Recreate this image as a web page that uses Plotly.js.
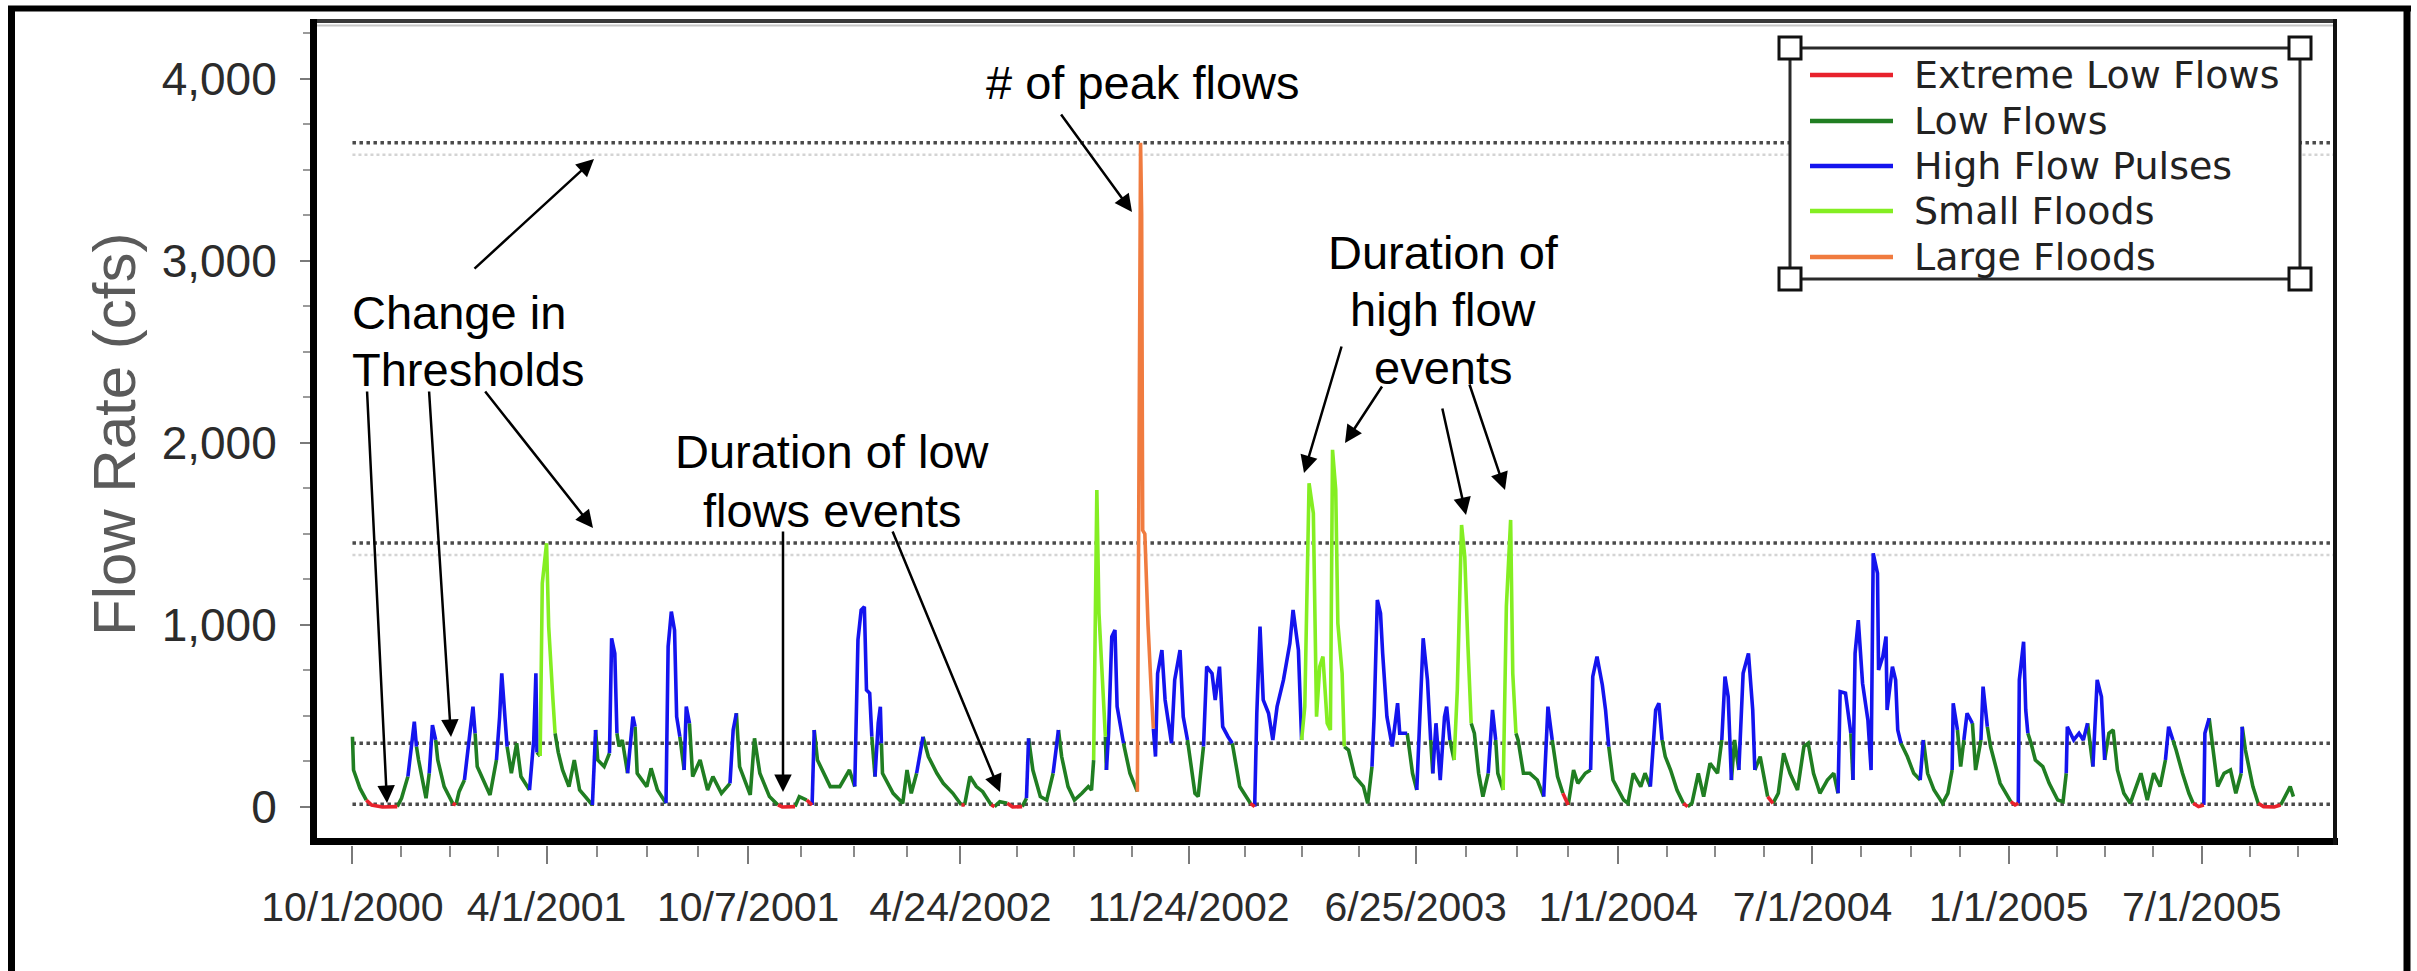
<!DOCTYPE html>
<html>
<head>
<meta charset="utf-8">
<script src="https://cdn.plot.ly/plotly-3.0.1.min.js"></script>
<style>
html,body{margin:0;padding:0;background:#fff;}
#chart{width:2417px;height:971px;}
</style>
</head>
<body>
<div id="chart"></div>
<script>
// ---------------- DATA ----------------
const flowDate = [
 '2000-10-01','2000-10-02','2000-10-08','2000-10-14','2000-10-19','2000-10-29','2000-11-12','2000-11-16','2000-11-22','2000-11-26',
 '2000-11-28','2000-11-30','2000-12-02','2000-12-09','2000-12-12','2000-12-15','2000-12-18','2000-12-20','2000-12-26','2001-01-03',
 '2001-01-06','2001-01-09','2001-01-14','2001-01-22','2001-01-24','2001-01-26','2001-02-07','2001-02-13','2001-02-16','2001-02-18',
 '2001-02-21','2001-02-23','2001-02-27','2001-03-04','2001-03-08','2001-03-16','2001-03-20','2001-03-22','2001-03-23','2001-03-26',
 '2001-03-28','2001-04-01','2001-04-03','2001-04-07','2001-04-09','2001-04-12','2001-04-16','2001-04-22','2001-04-27','2001-05-02',
 '2001-05-14','2001-05-17','2001-05-19','2001-05-25','2001-05-30','2001-06-01','2001-06-04','2001-06-06','2001-06-08','2001-06-11',
 '2001-06-16','2001-06-21','2001-06-23','2001-06-25','2001-07-04','2001-07-08','2001-07-14','2001-07-22','2001-07-24','2001-07-27',
 '2001-07-30','2001-08-01','2001-08-04','2001-08-06','2001-08-08','2001-08-10','2001-08-13','2001-08-16','2001-08-23','2001-08-30',
 '2001-09-04','2001-09-12','2001-09-20','2001-09-23','2001-09-26','2001-09-29','2001-10-09','2001-10-13','2001-10-18','2001-10-27',
 '2001-11-04','2001-11-08','2001-11-20','2001-11-24','2001-12-01','2001-12-06','2001-12-08','2001-12-11','2001-12-23',
 '2002-01-01','2002-01-10','2002-01-15','2002-01-18','2002-01-21','2002-01-24','2002-01-26','2002-01-29','2002-01-31','2002-02-03',
 '2002-02-06','2002-02-08','2002-02-09','2002-02-10','2002-02-20','2002-03-01','2002-03-05','2002-03-09','2002-03-14','2002-03-20',
 '2002-03-25','2002-04-02','2002-04-08','2002-04-17','2002-04-25','2002-04-28','2002-05-03','2002-05-09','2002-05-15','2002-05-23',
 '2002-05-26','2002-05-31','2002-06-07','2002-06-12','2002-06-21','2002-06-25','2002-06-27','2002-07-01','2002-07-08','2002-07-14',
 '2002-07-20','2002-07-25','2002-07-28','2002-08-03','2002-08-09','2002-08-16','2002-08-22','2002-08-25','2002-08-27','2002-08-30',
 '2002-09-01','2002-09-05','2002-09-07','2002-09-08','2002-09-10','2002-09-13','2002-09-16','2002-09-18','2002-09-23','2002-09-24',
 '2002-09-30','2002-10-07','2002-10-09','2002-10-10','2002-10-11','2002-10-12','2002-10-14','2002-10-17','2002-10-20','2002-10-22',
 '2002-10-24','2002-10-26','2002-10-30','2002-11-02','2002-11-05','2002-11-08','2002-11-11','2002-11-16','2002-11-19','2002-11-23',
 '2002-11-25','2002-11-30','2002-12-03','2002-12-08','2002-12-11','2002-12-16','2002-12-19','2002-12-23','2002-12-26','2002-12-31',
 '2003-01-04','2003-01-11','2003-01-21','2003-01-25','2003-01-27','2003-01-30','2003-02-02','2003-02-07','2003-02-11','2003-02-15',
 '2003-02-21','2003-02-27','2003-03-02','2003-03-07','2003-03-10','2003-03-13','2003-03-17','2003-03-21','2003-03-24','2003-03-27',
 '2003-03-30','2003-04-03','2003-04-06','2003-04-08','2003-04-11','2003-04-13','2003-04-17','2003-04-19','2003-04-23','2003-04-29',
 '2003-05-07','2003-05-11','2003-05-15','2003-05-17','2003-05-20','2003-05-23','2003-05-25','2003-05-29','2003-06-03','2003-06-08',
 '2003-06-10','2003-06-17','2003-06-22','2003-06-26','2003-06-29','2003-07-02','2003-07-06','2003-07-09','2003-07-11','2003-07-14',
 '2003-07-18','2003-07-22','2003-07-24','2003-07-27','2003-07-31','2003-08-03','2003-08-07','2003-08-10','2003-08-13','2003-08-16',
 '2003-08-19','2003-08-23','2003-08-27','2003-09-01','2003-09-05','2003-09-08','2003-09-10','2003-09-15','2003-09-18','2003-09-22',
 '2003-09-24','2003-09-27','2003-09-29','2003-10-04','2003-10-10','2003-10-17','2003-10-23','2003-10-27','2003-10-31','2003-11-05',
 '2003-11-10','2003-11-15','2003-11-20','2003-11-24','2003-12-01','2003-12-06','2003-12-08','2003-12-12','2003-12-17','2003-12-20',
 '2003-12-23','2003-12-27','2004-01-06','2004-01-10','2004-01-15','2004-01-22','2004-01-26','2004-01-31','2004-02-05','2004-02-08',
 '2004-02-11','2004-02-14','2004-02-19','2004-02-25','2004-03-02','2004-03-06','2004-03-10','2004-03-16','2004-03-21','2004-03-27',
 '2004-04-03','2004-04-07','2004-04-10','2004-04-13','2004-04-16','2004-04-19','2004-04-23','2004-04-27','2004-05-02','2004-05-06',
 '2004-05-08','2004-05-13','2004-05-20','2004-05-25','2004-05-30','2004-06-04','2004-06-10','2004-06-17','2004-06-23','2004-06-27',
 '2004-07-02','2004-07-08','2004-07-15','2004-07-21','2004-07-25','2004-07-27','2004-08-01','2004-08-06','2004-08-08','2004-08-10',
 '2004-08-13','2004-08-17',
 '2004-08-22','2004-08-25','2004-08-27','2004-08-31','2004-09-01','2004-09-05','2004-09-08','2004-09-09','2004-09-14','2004-09-17',
 '2004-09-19','2004-09-22','2004-09-28','2004-10-04','2004-10-10','2004-10-13','2004-10-17','2004-10-23','2004-10-31','2004-11-05',
 '2004-11-09','2004-11-10','2004-11-14','2004-11-17','2004-11-20','2004-11-23','2004-11-28','2004-12-01','2004-12-06','2004-12-08',
 '2004-12-12','2004-12-15','2004-12-24','2005-01-03','2005-01-07','2005-01-10','2005-01-11','2005-01-15','2005-01-17','2005-01-19',
 '2005-01-22','2005-01-26','2005-02-02','2005-02-08','2005-02-16','2005-02-21','2005-02-24','2005-02-25','2005-03-03','2005-03-08',
 '2005-03-12','2005-03-16','2005-03-21','2005-03-25','2005-03-29','2005-04-01','2005-04-05','2005-04-09','2005-04-13','2005-04-19',
 '2005-04-25','2005-05-05','2005-05-11','2005-05-17','2005-05-23','2005-05-28','2005-05-31','2005-06-04','2005-06-07','2005-06-13',
 '2005-06-19','2005-06-23','2005-06-28','2005-07-03','2005-07-04','2005-07-08','2005-07-11','2005-07-16','2005-07-22','2005-07-28',
 '2005-08-02','2005-08-07','2005-08-08','2005-08-11','2005-08-18','2005-08-23','2005-08-28','2005-09-07','2005-09-13','2005-09-20',
 '2005-09-22','2005-09-25'
];
const flowCfs = [
 386,203,103,38,11,0,2,48,167,368,
 469,332,258,48,185,450,368,258,112,20,
 11,84,148,551,405,222,66,258,496,734,
 460,332,185,350,167,93,368,734,300,280,
 1229,1449,991,588,405,300,203,112,258,93,
 11,423,258,222,295,927,844,405,332,368,
 185,496,441,185,112,212,93,20,881,1073,
 972,496,386,300,203,551,460,167,258,93,
 167,75,130,423,515,222,66,377,185,57,
 11,0,2,57,38,11,423,258,112,
 112,203,112,918,1082,1100,643,625,386,167,
 460,551,350,185,75,20,203,75,185,386,
 277,185,130,75,11,11,167,112,84,11,
 2,29,20,0,2,48,377,203,57,38,
 185,423,277,112,38,75,112,93,258,1742,
 1064,661,386,203,405,936,972,551,386,350,
 185,84,3240,3650,3260,1520,1500,1000,640,430,
 277,734,862,588,478,350,698,862,496,368,
 277,75,57,332,771,734,588,771,441,386,
 350,112,20,2,515,991,588,515,368,551,
 698,899,1082,862,368,551,1778,1614,496,771,
 826,460,423,1962,1742,1009,734,332,313,167,
 112,20,222,496,1137,1064,844,496,332,570,
 405,405,185,93,496,927,698,368,185,460,
 148,496,551,368,258,643,1549,1375,881,460,
 405,185,57,185,533,368,185,93,1101,1577,
 734,405,368,185,185,148,57,551,368,167,
 75,11,203,130,185,203,716,826,670,533,
 332,148,38,20,185,112,185,112,533,570,
 368,277,203,93,20,2,20,185,57,240,
 185,368,716,606,148,368,203,734,844,533,
 203,277,57,20,75,295,185,93,332,350,
 185,75,148,185,75,634,625,405,148,844,
 1027,680,
 478,203,1394,1284,753,826,936,533,771,698,
 423,350,277,185,148,368,185,93,20,75,
 203,570,423,222,368,515,460,203,368,661,
 441,332,130,29,11,20,698,908,533,405,
 350,258,222,130,38,29,185,441,368,405,
 368,460,222,698,606,258,405,423,203,75,
 20,185,38,185,112,258,441,368,313,185,
 75,20,2,11,405,487,332,112,185,203,
 75,185,441,313,112,20,2,0,11,93,
 112,57
];
// flow class of the segment that ends at each point
// E = Extreme Low Flows, L = Low Flows, H = High Flow Pulses, S = Small Floods, F = Large Floods
const flowClass = [
 'L','L','L','L','E','E','E','L','L','H',
 'H','H','L','L','L','H','H','L','L','L',
 'E','L','L','H','H','L','L','L','H','H',
 'H','H','L','L','L','L','H','H','H','L',
 'S','S','S','S','S','L','L','L','L','L',
 'L','H','L','L','L','H','H','H','L','L',
 'L','H','H','L','L','L','L','L','H','H',
 'H','H','H','L','L','H','H','L','L','L',
 'L','L','L','H','H','L','L','L','L','L',
 'L','E','E','L','L','E','H','L','L',
 'L','L','L','H','H','H','H','H','H','L',
 'H','H','H','L','L','L','L','L','L','H',
 'L','L','L','L','L','E','L','L','L','L',
 'E','L','L','E','E','L','H','L','L','L',
 'L','H','L','L','L','L','L','L','L','S',
 'S','S','S','L','H','H','H','H','H','H',
 'L','L','F','F','F','F','F','F','F','F',
 'H','H','H','H','H','H','H','H','H','H',
 'L','L','L','L','H','H','H','H','H','H',
 'H','L','L','E','H','H','H','H','H','H',
 'H','H','H','H','H','S','S','S','S','S',
 'S','S','S','S','S','S','S','S','L','L',
 'L','L','L','H','H','H','H','H','H','H',
 'H','H','L','L','H','H','H','H','L','H',
 'H','H','H','H','L','S','S','S','S','S',
 'L','L','L','L','H','H','L','L','S','S',
 'S','S','L','L','L','L','L','H','H','L',
 'L','E','L','L','L','L','H','H','H','H',
 'H','L','L','L','L','L','L','L','H','H',
 'H','L','L','L','L','E','L','L','L','L',
 'L','L','H','H','H','L','L','H','H','H',
 'H','L','L','E','L','L','L','L','L','L',
 'L','L','L','L','L','H','H','H','L','H',
 'H','H',
 'H','H','H','H','H','H','H','H','H','H',
 'H','H','L','L','L','H','L','L','L','L',
 'L','H','H','L','L','H','H','L','L','H',
 'H','L','L','L','E','E','H','H','H','H',
 'L','L','L','L','L','L','L','H','H','H',
 'H','H','L','H','H','H','L','L','L','L',
 'L','L','L','L','L','L','H','H','L','L',
 'L','L','E','E','H','H','L','L','L','L',
 'L','L','H','L','L','L','E','E','E','L',
 'L','L'
];
const classOrder  = ['L','H','S','F','E'];
const legendOrder = ['E','L','H','S','F'];
const classNames  = {E:'Extreme Low Flows', L:'Low Flows', H:'High Flow Pulses', S:'Small Floods', F:'Large Floods'};
const classColors = {E:'#e8222c', L:'#207e22', H:'#1414ee', S:'#84ee22', F:'#f07b3f'};
const thresholdValues = [15, 350, 1450, 3650];
const ghostThresholds = [1384, 3584];
const xTickDates  = ['2000-10-01','2001-04-01','2001-10-07','2002-04-24','2002-11-24','2003-06-25','2004-01-01','2004-07-01','2005-01-01','2005-07-01'];
const xTickLabels = ['10/1/2000','4/1/2001','10/7/2001','4/24/2002','11/24/2002','6/25/2003','1/1/2004','7/1/2004','1/1/2005','7/1/2005'];
const yTickValues = [0, 1000, 2000, 3000, 4000];
const xRange = ['2000-08-25', '2005-11-03'];
const yRange = [-209, 4313];

if (flowDate.length !== flowCfs.length || flowDate.length !== flowClass.length) {
  throw new Error('length mismatch ' + flowDate.length + ' ' + flowCfs.length + ' ' + flowClass.length);
}

// ---------------- traces: one per flow class, segments split by class ----------------
function buildTrace(code) {
  const xs = [], ys = [];
  let last = -2;
  for (let i = 1; i < flowDate.length; i++) {
    if (flowClass[i] !== code) continue;
    if (last !== i - 1) {
      if (xs.length) { xs.push(null); ys.push(null); }
      xs.push(flowDate[i - 1]); ys.push(flowCfs[i - 1]);
    }
    xs.push(flowDate[i]); ys.push(flowCfs[i]);
    last = i;
  }
  return {
    type: 'scatter', mode: 'lines', x: xs, y: ys, name: classNames[code],
    line: {color: classColors[code], width: 3.6}, connectgaps: false, showlegend: false
  };
}
const traces = classOrder.map(buildTrace);

// ---------------- layout geometry (pixels of the page) ----------------
const PL = 313, PR = 2335, PT = 22, PB = 845;
const px = X => (X - PL) / (PR - PL);
const py = Y => (PB - Y) / (PB - PT);

// minor x ticks: quarters between the major ticks
const tickMs = xTickDates.map(d => Date.parse(d + 'T00:00:00Z'));
const iso = ms => new Date(ms).toISOString().replace('T', ' ').slice(0, 19);
const minorX = [];
for (let i = 0; i < tickMs.length - 1; i++) {
  for (let k = 1; k < 4; k++) minorX.push(iso(tickMs[i] + (tickMs[i + 1] - tickMs[i]) * k / 4));
}
const lastStep = (tickMs[tickMs.length - 1] - tickMs[tickMs.length - 2]) / 4;
for (let k = 1; k <= 2; k++) minorX.push(iso(tickMs[tickMs.length - 1] + lastStep * k));

const shapes = [];
// threshold lines
ghostThresholds.forEach(v => shapes.push({type:'line', xref:'x', yref:'y', x0:xTickDates[0], x1:xRange[1], y0:v, y1:v,
  line:{color:'#d4d4d4', width:2.5, dash:'dot'}, layer:'below'}));
thresholdValues.forEach(v => shapes.push({type:'line', xref:'x', yref:'y', x0:xTickDates[0], x1:xRange[1], y0:v, y1:v,
  line:{color:'#4a4a4a', width:3.5, dash:'dot'}, layer:'below'}));
function pline(x0, y0, x1, y1, color, width) {
  shapes.push({type:'line', xref:'paper', yref:'paper', x0:px(x0), y0:py(y0), x1:px(x1), y1:py(y1),
    line:{color:color, width:width}, layer:'above'});
}
function prect(x0, y0, x1, y1, color, width, fill) {
  shapes.push({type:'rect', xref:'paper', yref:'paper', x0:px(x0), y0:py(y0), x1:px(x1), y1:py(y1),
    line:{color:color, width:width}, fillcolor:fill, layer:'above'});
}
// outer border
pline(11.5, 8, 11.5, 980, '#000', 7);
pline(8, 8.5, 2411, 8.5, '#000', 6);
pline(2407, 8, 2407, 980, '#000', 7);
// plot frame
pline(313, 21, 2337, 21, '#3a3a3a', 4);
pline(316, 25.5, 2333, 25.5, '#c6c6c6', 2);
pline(313.5, 19, 313.5, 845, '#000', 7);
pline(310, 841.5, 2338, 841.5, '#000', 7);
pline(2335, 19, 2335, 845, '#111', 4);

// legend (drawn manually)
const legRowY = [75, 121, 166, 211, 257];
prect(1790, 48, 2300, 279, '#2a2a2a', 3, 'rgba(255,255,255,1)');
[[1790,48],[2300,48],[1790,279],[2300,279]].forEach(([cx, cy]) => prect(cx-11, cy-11, cx+11, cy+11, '#111', 3, '#fff'));
legendOrder.forEach((c, i) => pline(1810, legRowY[i], 1893, legRowY[i], classColors[c], 4.5));

const annotations = [];
const FONT = 'Liberation Sans, Arial, sans-serif';
function note(text, X, Y, xanchor, size, color, extra) {
  annotations.push(Object.assign({text:text, xref:'paper', yref:'paper', x:px(X), y:py(Y), xanchor:xanchor, yanchor:'middle',
    showarrow:false, font:{family:FONT, size:size, color:color}}, extra || {}));
}
function arrow(tailX, tailY, tipX, tipY) {
  annotations.push({text:'', xref:'paper', yref:'paper', x:px(tipX), y:py(tipY), axref:'pixel', ayref:'pixel',
    ax:tailX - tipX, ay:tailY - tipY, showarrow:true, arrowhead:2, arrowsize:1.4, arrowwidth:2.5, arrowcolor:'#000', standoff:0});
}
legendOrder.forEach((c, i) => note(classNames[c], 1912, legRowY[i], 'left', 38, '#222',
  {font:{family:'DejaVu Sans, Verdana, sans-serif', size:38, color:'#222'}}));

// y-axis title
note('Flow Rate (cfs)', 115, 435, 'center', 60, '#5a5a5a', {textangle:-90});

// callout texts
note('# of peak flows', 1143, 82, 'center', 47, '#000');
note('Change in', 350, 313, 'left', 47, '#000');
note('Thresholds', 350, 369, 'left', 47, '#000');
note('Duration of', 1443, 252, 'center', 47, '#000');
note('high flow', 1443, 309, 'center', 47, '#000');
note('events', 1443, 367, 'center', 47, '#000');
note('Duration of low', 832, 451, 'center', 47, '#000');
note('flows events', 832, 510, 'center', 47, '#000');

// callout arrows
arrow(1060, 113, 1132, 212);
arrow(473, 270, 594, 159);
arrow(367, 390, 387, 803);
arrow(429, 390, 451, 737);
arrow(484, 390, 593, 528);
arrow(783, 530, 783, 792);
arrow(892, 530, 1000, 792);
arrow(1342, 345, 1304, 473);
arrow(1383, 385, 1345, 443);
arrow(1442, 407, 1466, 515);
arrow(1469, 383, 1505, 490);

const layout = {
  width: 2417, height: 971,
  margin: {l: PL, r: 2417 - PR, t: PT, b: 971 - PB, pad: 0},
  paper_bgcolor: '#fff', plot_bgcolor: '#fff',
  showlegend: false,
  xaxis: {
    type: 'date', range: xRange, showgrid: false, zeroline: false, showline: false,
    tickmode: 'array', tickvals: xTickDates, ticktext: xTickLabels,
    ticks: 'outside', ticklen: 18, tickwidth: 2, tickcolor: '#7a7a7a', ticklabelstandoff: 8,
    tickfont: {family: FONT, size: 41, color: '#2b2b2b'},
    minor: {tickvals: minorX, ticks: 'outside', ticklen: 11, tickwidth: 2, tickcolor: '#8a8a8a', showgrid: false}
  },
  yaxis: {
    range: yRange, showgrid: false, zeroline: false, showline: false,
    tickmode: 'array', tickvals: yTickValues, tickformat: ',d', separatethousands: true,
    ticks: 'outside', ticklen: 12, tickwidth: 2, tickcolor: '#7a7a7a', ticklabelstandoff: 14,
    tickfont: {family: FONT, size: 46, color: '#2b2b2b'},
    minor: {tick0: 0, dtick: 250, ticks: 'outside', ticklen: 9, tickwidth: 2, tickcolor: '#9a9a9a', showgrid: false}
  },
  shapes: shapes,
  annotations: annotations
};

Plotly.newPlot('chart', traces, layout, {displayModeBar: false, staticPlot: true});
</script>
</body>
</html>
